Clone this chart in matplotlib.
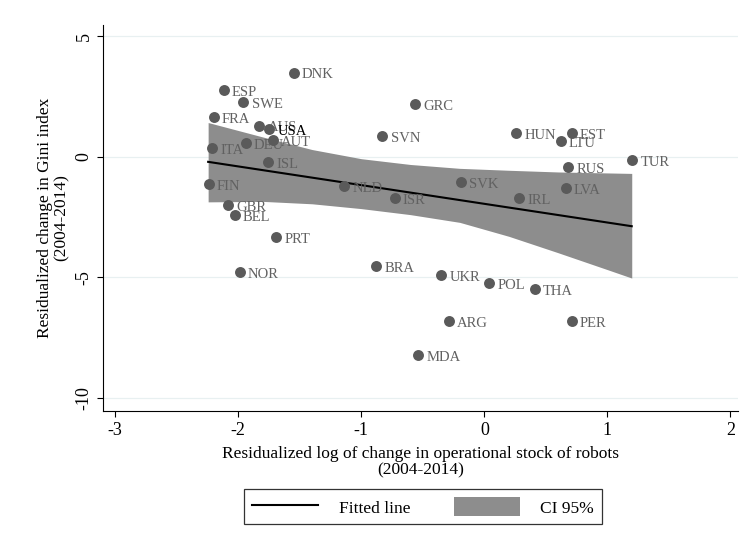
import matplotlib
matplotlib.use("Agg")
import matplotlib.pyplot as plt
from matplotlib.lines import Line2D
from matplotlib.patches import Patch

plt.rcParams['font.family'] = ['Liberation Serif', 'DejaVu Serif']
plt.rcParams['axes.unicode_minus'] = False

# country codes with residualized robot stock change (x) and Gini change (y)
countries = ['DNK', 'ESP', 'SWE', 'FRA', 'AUS', 'USA', 'AUT', 'DEU', 'ITA', 'ISL',
             'FIN', 'NLD', 'GBR', 'BEL', 'PRT', 'NOR', 'BRA', 'GRC', 'SVN', 'HUN',
             'EST', 'LTU', 'RUS', 'TUR', 'SVK', 'ISR', 'IRL', 'LVA', 'UKR', 'POL',
             'THA', 'ARG', 'PER', 'MDA']
robots = [-1.55, -2.12, -1.96, -2.20, -1.83, -1.75, -1.72, -1.94, -2.21, -1.76,
          -2.24, -1.14, -2.08, -2.03, -1.69, -1.99, -0.88, -0.56, -0.83, 0.26,
          0.71, 0.62, 0.68, 1.20, -0.19, -0.73, 0.28, 0.66, -0.35, 0.04,
          0.41, -0.29, 0.71, -0.54]
gini = [3.48, 2.77, 2.27, 1.65, 1.28, 1.15, 0.69, 0.57, 0.36, -0.22,
        -1.13, -1.22, -2.01, -2.43, -3.33, -4.79, -4.54, 2.19, 0.86, 0.98,
        0.98, 0.65, -0.43, -0.14, -1.05, -1.72, -1.72, -1.30, -4.92, -5.25,
        -5.50, -6.83, -6.83, -8.24]

# fitted line and 95% confidence band
fit_x = [-2.245, 1.198]
fit_y = [-0.21, -2.88]
band_x = [-2.245, -1.8, -1.4, -1.0, -0.6, -0.2, 0.2, 0.6, 1.0, 1.198]
band_hi = [1.42, 0.82, 0.30, -0.08, -0.32, -0.48, -0.56, -0.63, -0.67, -0.69]
band_lo = [-1.87, -1.85, -1.95, -2.15, -2.40, -2.72, -3.30, -3.98, -4.68, -5.03]

highlight = 'USA'

fig = plt.figure(figsize=(7.46, 5.41), dpi=100)
fig.patch.set_facecolor('white')
ax = fig.add_axes([0.138, 0.240, 0.851, 0.714])

ax.fill_between(band_x, band_lo, band_hi, color='#8d8d8d', linewidth=0, zorder=1)
ax.plot(fit_x, fit_y, color='black', linewidth=1.5, zorder=3)

# labels sit under the markers so a neighbouring dot can hide part of a label
ax.scatter(robots, gini, s=62, color='#5a5a5a', linewidths=0, zorder=4)
for name, xv, yv in zip(countries, robots, gini):
    col = 'black' if name == highlight else '#616161'
    z = 5 if name == highlight else 3.5
    ax.annotate(name, (xv, yv), xytext=(6, -1.5), textcoords='offset points',
                va='center', ha='left', fontsize=10.5, color=col, zorder=z)

ax.set_xlim(-3.10, 2.06)
ax.set_ylim(-10.55, 5.47)
ax.set_xticks([-3, -2, -1, 0, 1, 2])
ax.set_yticks([-10, -5, 0, 5])
ax.tick_params(direction='out', length=4, width=0.8, labelsize=13, colors='black')
for lbl in ax.get_yticklabels():
    lbl.set_rotation(90)
    lbl.set_va('center')

ax.grid(axis='y', color='#e8f0f1', linewidth=0.9)
ax.set_axisbelow(True)
ax.spines['top'].set_visible(False)
ax.spines['right'].set_visible(False)
ax.spines['left'].set_linewidth(0.8)
ax.spines['bottom'].set_linewidth(0.8)

ax.set_xlabel('Residualized log of change in operational stock of robots\n(2004-2014)',
              fontsize=12.5, linespacing=1.1, labelpad=5)
ax.set_ylabel('Residualized change in Gini index\n(2004-2014)',
              fontsize=12.5, linespacing=1.1, labelpad=4)

handles = [Line2D([], [], color='black', linewidth=1.5),
           Patch(facecolor='#8d8d8d', edgecolor='none')]
leg = fig.legend(handles, ['Fitted line', 'CI 95%'], loc='center',
                 bbox_to_anchor=(0.567, 0.063), ncol=2, fontsize=12.5,
                 frameon=True, fancybox=False, handlelength=3.8, handleheight=1.3,
                 columnspacing=2.5, handletextpad=1.2, borderpad=0.45)
leg.get_frame().set_edgecolor('black')
leg.get_frame().set_linewidth(0.9)

fig.savefig('out.png', dpi=100)
